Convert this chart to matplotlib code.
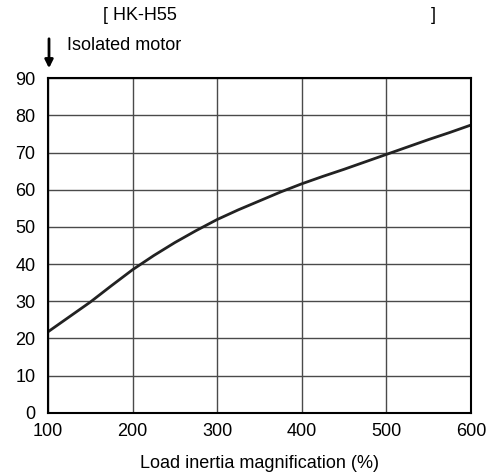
import matplotlib
matplotlib.use('Agg')
import matplotlib.pyplot as plt

# data
load_inertia = [100, 125, 150, 175, 200, 225, 250, 275, 300, 325, 350,
                375, 400, 425, 450, 475, 500, 525, 550, 575, 600]
values = [21.8, 25.8, 29.8, 34.2, 38.5, 42.3, 45.8, 49.0, 52.0, 54.6, 57.0,
          59.4, 61.6, 63.6, 65.5, 67.5, 69.5, 71.5, 73.5, 75.4, 77.4]
x_ticks = [100, 200, 300, 400, 500, 600]
y_ticks = [0, 10, 20, 30, 40, 50, 60, 70, 80, 90]

plt.rcParams['font.family'] = ['Liberation Sans', 'DejaVu Sans']

fig = plt.figure(figsize=(4.9, 4.74), dpi=100)
ax = fig.add_axes([0.098, 0.129, 0.863, 0.706])

ax.plot(load_inertia, values, color='#222222', lw=2)

ax.set_xlim(100, 600)
ax.set_ylim(0, 90)
ax.set_xticks(x_ticks)
ax.set_yticks(y_ticks)
ax.tick_params(length=0, labelsize=13, colors='black')
ax.tick_params(axis='x', pad=7)
ax.tick_params(axis='y', pad=9)
ax.grid(True, color='#4a4a4a', lw=1)
for s in ax.spines.values():
    s.set_color('black')
    s.set_linewidth(1.5)

ax.set_xlabel('Load inertia magnification (%)', fontsize=13, labelpad=11)

# header text and arrow
fig.text(103 / 490, 1 - 15 / 474, '[ HK-H55', fontsize=13, va='center', ha='left')
fig.text(433 / 490, 1 - 15 / 474, ']', fontsize=13, va='center', ha='center')
fig.text(67 / 490, 1 - 45 / 474, 'Isolated motor', fontsize=13, va='center', ha='left')
fig.add_artist(matplotlib.patches.FancyArrowPatch(
    (49 / 490, 1 - 36 / 474), (49 / 490, 1 - 71 / 474),
    transform=fig.transFigure, arrowstyle='-|>', mutation_scale=12,
    color='black', lw=2))

fig.savefig('out.png', dpi=100)
